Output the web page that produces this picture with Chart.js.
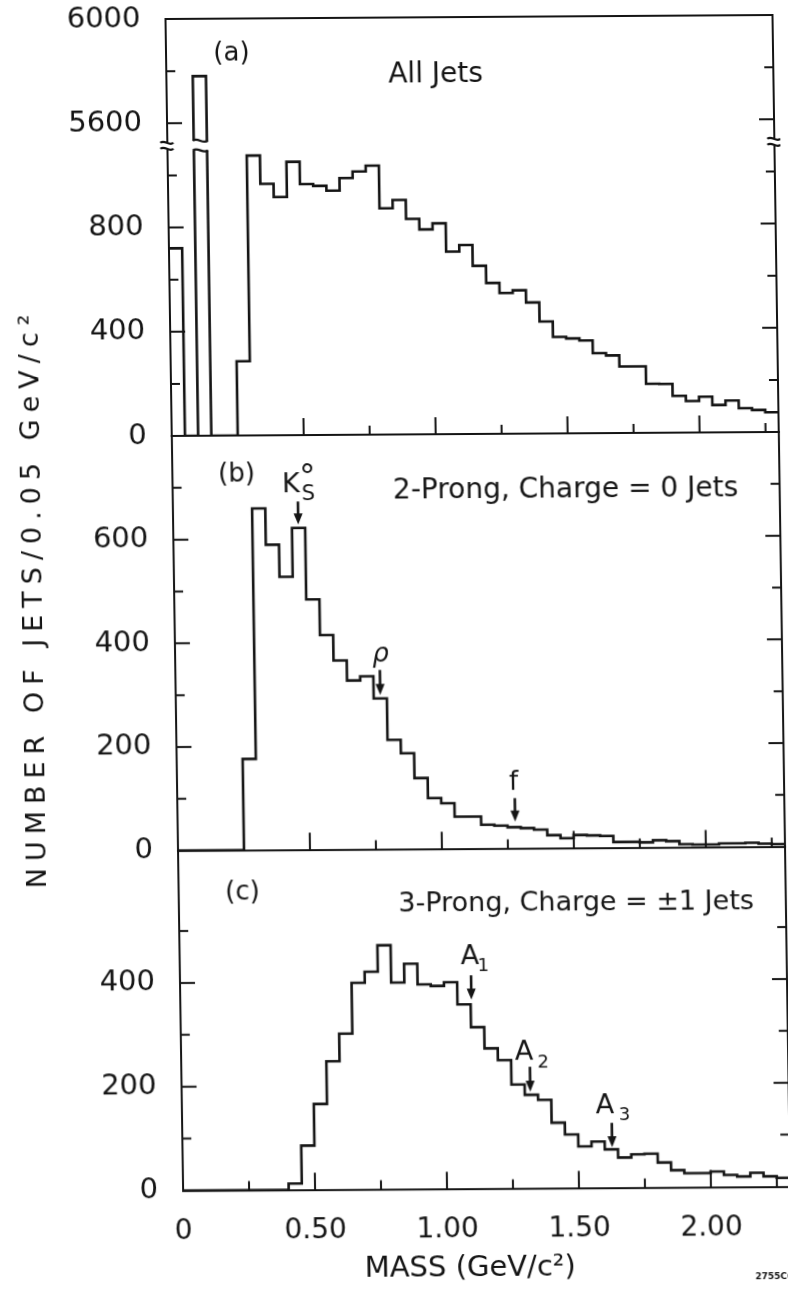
<!DOCTYPE html>
<html>
<head>
<meta charset="utf-8">
<title>Jet mass spectra</title>
<script src="https://cdn.jsdelivr.net/npm/chart.js@4.4.1/dist/chart.umd.min.js"></script>
<style>
  html, body { margin: 0; padding: 0; background: #fff; overflow: hidden; }
  /* the scanned figure is slightly skewed, so the whole sheet is too */
  #page { position: relative; width: 788px; height: 1297px;
          transform-origin: 480px 650px; transform: matrix(1, -0.0066, 0.015, 1, 0, 0); }
  canvas { position: absolute; left: 0; }
  .txt { position: absolute; white-space: nowrap; color: #141414; font-family: 'DejaVu Sans', sans-serif; }
  #ytitle { left: 33px; top: 595px; font-size: 27px; letter-spacing: 7px; transform: translate(-50%, -50%) rotate(-90deg); }
  #xtitle { left: 461px; top: 1266px; font-size: 29px; transform: translate(-50%, -50%); }
  #tag { left: 746px; top: 1273px; font-size: 9px; font-weight: bold; }
</style>
</head>
<body>
<div id="page">
  <canvas id="panelA" width="788" height="452" style="top:0px"></canvas>
  <canvas id="panelB" width="788" height="452" style="top:415px"></canvas>
  <canvas id="panelC" width="788" height="467" style="top:830px"></canvas>
  <div class="txt" id="ytitle">NUMBER OF JETS/0.05 GeV/c²</div>
  <div class="txt" id="xtitle">MASS (GeV/c²)</div>
  <div class="txt" id="tag">2755C6</div>
</div>
<script>
// lower edge of each 0.05 GeV/c2 bin
const massBins = [0.00, 0.05, 0.10, 0.15, 0.20, 0.25, 0.30, 0.35, 0.40, 0.45,
                  0.50, 0.55, 0.60, 0.65, 0.70, 0.75, 0.80, 0.85, 0.90, 0.95,
                  1.00, 1.05, 1.10, 1.15, 1.20, 1.25, 1.30, 1.35, 1.40, 1.45,
                  1.50, 1.55, 1.60, 1.65, 1.70, 1.75, 1.80, 1.85, 1.90, 1.95,
                  2.00, 2.05, 2.10, 2.15, 2.20, 2.25];
const massMax = 2.30;

// (a) all jets
const allJets = [720, 0, 5780, 0, 0, 285, 1074, 965, 914, 1049,
                 963, 956, 937, 985, 1010, 1032, 868, 900, 827, 786,
                 809, 700, 725, 645, 579, 540, 550, 503, 430, 370,
                 364, 356, 307, 298, 255, 255, 188, 187, 141, 121,
                 137, 105, 122, 92, 85, 76];
// (b) 2-prong, charge 0
const twoProng = [0, 0, 0, 0, 0, 176, 659, 589, 527, 621,
                  483, 414, 365, 326, 334, 291, 211, 185, 137, 98,
                  88, 62, 62, 46, 44, 41, 39, 36, 25, 19,
                  25, 24, 23, 11, 11, 10, 14, 12, 6, 5,
                  5, 7, 7, 8, 6, 5];
// (c) 3-prong, charge +-1
const threeProng = [0, 0, 0, 0, 0, 0, 0, 0, 12, 85,
                    165, 247, 300, 398, 419, 470, 398, 434, 394, 391,
                    398, 355, 311, 270, 247, 200, 180, 170, 126, 103,
                    80, 89, 74, 58, 64, 65, 48, 33, 27, 27,
                    30, 23, 20, 27, 20, 17];

const xTickValues = [0, 0.25, 0.50, 0.75, 1.00, 1.25, 1.50, 1.75, 2.00, 2.25];
const xTickLabels = ['0', '', '0.50', '', '1.00', '', '1.50', '', '2.00', ''];
const yTicksA = [0, 200, 400, 600, 800, 1000, 5600, 5800, 6000];
const yLabelsA = ['0', '', '400', '', '800', '', '5600', '', '6000'];
const yTicksB = [0, 100, 200, 300, 400, 500, 600, 700];
const yLabelsB = ['0', '', '200', '', '400', '', '600', ''];
const yTicksC = [0, 100, 200, 300, 400, 500];
const yLabelsC = ['0', '', '200', '', '400', ''];

// panel (a) has its axis cut between 1100 and 5500
const cutFrom = 1100, cutTo = 5500;
const squeeze = v => (v >= cutTo ? v - (cutTo - cutFrom) : v);
const same = v => v;

const ink = '#141414';
const family = "'DejaVu Sans', sans-serif";
Chart.defaults.font.family = family;
Chart.defaults.color = ink;

function steps(values, map) {
  const pts = massBins.map((m, i) => ({ x: m, y: map(values[i]) }));
  pts.push({ x: massMax, y: map(values[values.length - 1]) });
  return pts;
}

// right edge, optional top edge, and inward tick marks
const frame = {
  id: 'frame',
  afterDraw(chart, args, o) {
    const { ctx, chartArea: a, scales: { x, y } } = chart;
    ctx.save();
    ctx.strokeStyle = ink;
    ctx.lineWidth = 2;
    ctx.beginPath();
    ctx.moveTo(a.right, o.top ? a.top : a.top - 1);
    ctx.lineTo(a.right, a.bottom + 1);
    if (o.top) { ctx.moveTo(a.left - 1, a.top); ctx.lineTo(a.right + 1, a.top); }
    y.ticks.forEach(t => {
      const py = y.getPixelForValue(t.value);
      if (py >= a.bottom - 1 || py <= a.top + 1) return;
      const len = t.label ? 15 : 9;
      ctx.moveTo(a.left, py); ctx.lineTo(a.left + len, py);
      ctx.moveTo(a.right, py); ctx.lineTo(a.right - len, py);
    });
    x.ticks.forEach(t => {
      if (t.value <= 0) return;
      const px = x.getPixelForValue(t.value);
      const len = Math.round(t.value * 100) % 50 === 0 ? 17 : 9;
      ctx.moveTo(px, a.bottom); ctx.lineTo(px, a.bottom - len);
    });
    ctx.stroke();
    ctx.restore();
  }
};

function wave(ctx, x0, x1, y) {
  const w = x1 - x0;
  ctx.beginPath();
  ctx.moveTo(x0, y);
  ctx.bezierCurveTo(x0 + w / 3, y - 4, x1 - w / 3, y + 4, x1, y);
  ctx.stroke();
}

// the break in panel (a): gap in the tall bar and marks on both axes
const cutMarks = {
  id: 'cutMarks',
  afterDraw(chart, args, o) {
    if (!o.on) return;
    const { ctx, chartArea: a, scales: { x, y } } = chart;
    const lo = y.getPixelForValue(o.low), hi = y.getPixelForValue(o.high);
    const bl = x.getPixelForValue(o.bar[0]), br = x.getPixelForValue(o.bar[1]);
    ctx.save();
    ctx.fillStyle = '#fff';
    ctx.strokeStyle = ink;
    ctx.lineWidth = 2.2;
    ctx.fillRect(bl - 3, hi, br - bl + 6, lo - hi);
    wave(ctx, bl - 1, br + 1, hi);
    wave(ctx, bl - 1, br + 1, lo);
    const m = (lo + hi) / 2;
    [a.left, a.right].forEach(ax => {
      ctx.fillRect(ax - 2, m - 3, 4, 6);
      wave(ctx, ax - 7, ax + 6, m - 3);
      wave(ctx, ax - 7, ax + 6, m + 3);
    });
    ctx.restore();
  }
};

// labels and arrows, placed in data units
const notes = {
  id: 'notes',
  afterDraw(chart, args, o) {
    const { ctx, scales: { x, y } } = chart;
    ctx.save();
    ctx.fillStyle = ink;
    ctx.strokeStyle = ink;
    (o.texts || []).forEach(t => {
      ctx.font = `${t.style || 'normal'} ${t.size}px ${family}`;
      ctx.textAlign = t.align || 'center';
      ctx.textBaseline = 'middle';
      ctx.fillText(t.text, x.getPixelForValue(t.x), y.getPixelForValue(t.y));
    });
    (o.arrows || []).forEach(ar => {
      const px = x.getPixelForValue(ar.x);
      const y0 = y.getPixelForValue(ar.tail), y1 = y.getPixelForValue(ar.tip);
      ctx.lineWidth = 2.6;
      ctx.beginPath(); ctx.moveTo(px, y0); ctx.lineTo(px, y1 - 8); ctx.stroke();
      ctx.beginPath();
      ctx.moveTo(px - 4.5, y1 - 11); ctx.lineTo(px + 4.5, y1 - 11); ctx.lineTo(px, y1);
      ctx.closePath(); ctx.fill();
    });
    ctx.restore();
  }
};

function panel(p) {
  return {
    type: 'line',
    data: {
      datasets: [{
        data: steps(p.values, p.map),
        stepped: 'before',
        borderColor: ink,
        borderWidth: 2.6,
        pointRadius: 0,
        fill: false
      }]
    },
    options: {
      responsive: false,
      animation: false,
      events: [],
      layout: { padding: { top: p.padTop, right: 6, left: 0, bottom: 0 } },
      scales: {
        x: {
          type: 'linear', min: 0, max: massMax,
          afterBuildTicks: s => { s.ticks = xTickValues.map(v => ({ value: v })); },
          afterFit: s => { s.height = p.xHeight; s.paddingLeft = 0; s.paddingRight = 0; },
          grid: { display: false, drawTicks: false },
          border: { display: true, color: ink, width: 2 },
          ticks: {
            display: p.xLabels, autoSkip: false, maxRotation: 0, padding: 24,
            font: { size: 28 }, color: ink,
            callback: (v, i) => xTickLabels[i]
          }
        },
        y: {
          type: 'linear', min: 0, max: p.yMax,
          afterBuildTicks: s => { s.ticks = p.yTicks.map(v => ({ value: p.map(v) })); },
          afterFit: s => { s.width = 175; s.paddingTop = 0; s.paddingBottom = 0; },
          grid: { display: false, drawTicks: false },
          border: { display: true, color: ink, width: 2 },
          ticks: {
            autoSkip: false, padding: 25, font: { size: 29 }, color: ink,
            callback: (v, i) => p.yLabels[i]
          }
        }
      },
      plugins: {
        legend: { display: false },
        tooltip: { enabled: false },
        frame: { top: p.top },
        cutMarks: p.cut || { on: false },
        notes: p.notes
      }
    },
    plugins: [frame, cutMarks, notes]
  };
}

new Chart(document.getElementById('panelA'), panel({
  values: allJets, map: squeeze, yMax: squeeze(6000),
  yTicks: yTicksA, yLabels: yLabelsA,
  padTop: 17, xHeight: 18, xLabels: false, top: true,
  cut: { on: true, low: 1095, high: 1132, bar: [0.10, 0.15] },
  notes: {
    texts: [
      { text: '(a)', x: 0.248, y: 1464, size: 26 },
      { text: 'All Jets', x: 0.841, y: 1380, size: 28, align: 'left' }
    ]
  }
}));

new Chart(document.getElementById('panelB'), panel({
  values: twoProng, map: same, yMax: 800,
  yTicks: yTicksB, yLabels: yLabelsB,
  padTop: 19, xHeight: 18.4, xLabels: false, top: false,
  notes: {
    texts: [
      { text: '(b)', x: 0.243, y: 725, size: 26 },
      { text: 'K', x: 0.448, y: 703, size: 27 },
      { text: 'S', x: 0.514, y: 685, size: 21 },
      { text: '°', x: 0.512, y: 716, size: 32 },
      { text: '2-Prong, Charge = 0 Jets', x: 0.835, y: 691, size: 28, align: 'left' },
      { text: 'ρ', x: 0.779, y: 375, size: 26, style: 'italic' },
      { text: 'f', x: 1.275, y: 127, size: 26 }
    ],
    arrows: [
      { x: 0.474, tip: 628, tail: 672 },
      { x: 0.775, tip: 298, tail: 346 },
      { x: 1.279, tip: 52, tail: 97 }
    ]
  }
}));

new Chart(document.getElementById('panelC'), panel({
  values: threeProng, map: same, yMax: 655,
  yTicks: yTicksC, yLabels: yLabelsC,
  padTop: 18.6, xHeight: 108.5, xLabels: true, top: false,
  notes: {
    texts: [
      { text: '(c)', x: 0.242, y: 572, size: 26 },
      { text: '3-Prong, Charge = ±1 Jets', x: 0.832, y: 549, size: 27, align: 'left' },
      { text: 'A', x: 1.100, y: 447, size: 27 },
      { text: '1', x: 1.150, y: 428, size: 18 },
      { text: 'A', x: 1.300, y: 261, size: 27 },
      { text: '2', x: 1.372, y: 242, size: 18 },
      { text: 'A', x: 1.603, y: 158, size: 27 },
      { text: '3', x: 1.677, y: 140, size: 18 }
    ],
    arrows: [
      { x: 1.103, tip: 364, tail: 411 },
      { x: 1.321, tip: 186, tail: 234 },
      { x: 1.628, tip: 78, tail: 125 }
    ]
  }
}));
</script>
</body>
</html>
